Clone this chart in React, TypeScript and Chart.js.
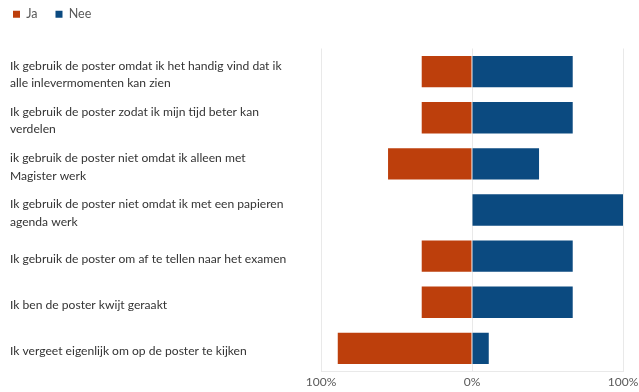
import React, { useEffect, useRef } from "react";
import { Chart, registerables } from "chart.js";

Chart.register(...registerables);

const categories: (string | string[])[] = [
  ["Ik gebruik de poster omdat ik het handig vind dat ik", "alle inlevermomenten kan zien"],
  ["Ik gebruik de poster zodat ik mijn tijd beter kan", "verdelen"],
  ["ik gebruik de poster niet omdat ik alleen met", "Magister werk"],
  ["Ik gebruik de poster niet omdat ik met een papieren", "agenda werk"],
  "Ik gebruik de poster om af te tellen naar het examen",
  "Ik ben de poster kwijt geraakt",
  "Ik vergeet eigenlijk om op de poster te kijken",
];

const jaValues = [33.3, 33.3, 55.6, 0, 33.3, 33.3, 88.9];
const neeValues = [66.7, 66.7, 44.4, 100, 66.7, 66.7, 11.1];

const seriesNames = ["Ja", "Nee"];
const xTicks = [-100, 0, 100];

const FONT = "Lato, 'Open Sans', sans-serif";

export default function App() {
  const ref = useRef<HTMLCanvasElement | null>(null);

  useEffect(() => {
    if (!ref.current) return;
    const chart = new Chart(ref.current, {
      type: "bar",
      data: {
        labels: categories,
        datasets: [
          {
            label: seriesNames[0],
            data: jaValues.map((v) => -v),
            backgroundColor: "#BD3F0C",
            borderWidth: 0,
            categoryPercentage: 1,
            barPercentage: 0.68,
          },
          {
            label: seriesNames[1],
            data: neeValues,
            backgroundColor: "#0B4A80",
            borderWidth: 0,
            categoryPercentage: 1,
            barPercentage: 0.68,
          },
        ],
      },
      options: {
        indexAxis: "y",
        responsive: false,
        animation: false,
        layout: { padding: { left: 10, right: 16, top: 8, bottom: 0 } },
        scales: {
          x: {
            stacked: true,
            min: -100,
            max: 100,
            z: 1,
            afterBuildTicks: (scale: any) => {
              scale.ticks = xTicks.map((v) => ({ value: v }));
            },
            afterFit: (scale: any) => {
              scale.paddingRight = 0;
              scale.paddingLeft = 0;
            },
            ticks: {
              padding: 3,
              color: "#595959",
              font: { family: FONT, size: 12 },
              callback: (v: any) => Math.abs(Number(v)) + "%",
            },
            grid: { color: "#e9e9e9", drawTicks: false, lineWidth: 1 },
            border: { display: true, color: "#e9e9e9" },
          },
          y: {
            stacked: true,
            afterFit: (scale: any) => {
              scale.width = 311;
            },
            ticks: {
              crossAlign: "far",
              labelOffset: 3,
              color: "#333333",
              font: { family: FONT, size: 12.1, lineHeight: 1.45 },
            },
            grid: { display: false },
            border: { display: false },
          },
        },
        plugins: {
          legend: {
            position: "top",
            align: "start",
            labels: {
              boxWidth: 7,
              boxHeight: 7,
              padding: 18,
              color: "#595959",
              font: { family: FONT, size: 12.5 },
            },
          },
          tooltip: { enabled: false },
        },
      },
      plugins: [
        {
          id: "shiftLegend",
          afterLayout(c: any) {
            if (c.legend) {
              c.legend.left -= 15;
              c.legend.top -= 18;
            }
          },
        },
      ],
    } as any);
    return () => chart.destroy();
  }, []);

  return (
    <div style={{ position: "fixed", left: 0, top: 0, width: 639, height: 392, background: "#fff" }}>
      <canvas ref={ref} width={639} height={392} />
    </div>
  );
}
